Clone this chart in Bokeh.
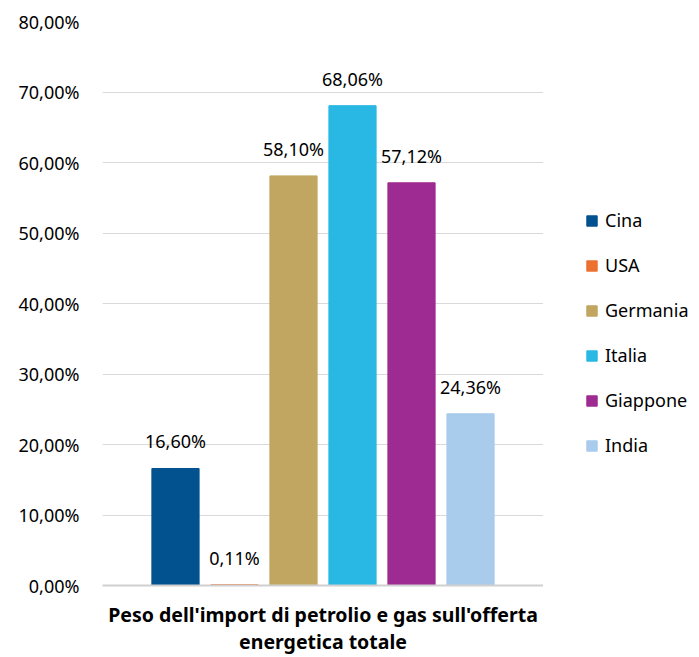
from bokeh.plotting import figure
from bokeh.layouts import row
from bokeh.models import ColumnDataSource, Range1d, LabelSet, Legend, LegendItem, CustomJSTickFormatter, FixedTicker
from bokeh.core.properties import value
from bokeh.embed import file_html
from bokeh.resources import INLINE

countries = ["Cina", "USA", "Germania", "Italia", "Giappone", "India"]
values = [16.60, 0.11, 58.10, 68.06, 57.12, 24.36]
colors = ["#02528f", "#ec7030", "#c1a661", "#28b8e3", "#9e2b91", "#a9cbec"]
y_ticks = [0, 10, 20, 30, 40, 50, 60, 70, 80]
x_title = "Peso dell'import di petrolio e gas sull'offerta\nenergetica totale"

FONT = "Noto Sans"

idx = list(range(len(countries)))
labels = [f"{v:.2f}".replace(".", ",") + "%" for v in values]
src = ColumnDataSource(dict(x=idx, top=values, country=countries, color=colors, label=labels))

p = figure(width=543, height=657, output_backend="svg", toolbar_location=None,
           x_range=Range1d(-1.237, 6.237), y_range=Range1d(0, 80),
           min_border_left=102, min_border_right=0, min_border_top=21, min_border_bottom=0)
p.outline_line_color = None
p.background_fill_color = "white"
p.border_fill_color = "white"

r = p.vbar(x="x", top="top", width=0.8, color="color", source=src)

p.add_layout(LabelSet(x="x", y="top", text="label", source=src, text_align="center",
                      text_baseline="middle", y_offset=27, text_font_size="18px",
                      text_font=value(FONT), text_color="#000000"))

p.yaxis.ticker = FixedTicker(ticks=y_ticks)
p.yaxis.formatter = CustomJSTickFormatter(code="return tick.toFixed(2).replace('.', ',') + '%';")
p.yaxis.axis_line_color = None
p.yaxis.major_tick_line_color = None
p.yaxis.minor_tick_line_color = None
p.yaxis.major_label_text_font_size = "18px"
p.yaxis.major_label_text_font = FONT
p.yaxis.major_label_text_color = "#000000"
p.yaxis.major_label_standoff = 17

p.ygrid.grid_line_color = "#d9d9d9"
p.ygrid.grid_line_width = 1
p.xgrid.grid_line_color = None

p.xaxis.ticker = FixedTicker(ticks=[])
p.xaxis.axis_line_color = "#d0d0d0"
p.xaxis.axis_line_width = 2
p.xaxis.major_tick_line_color = None
p.xaxis.minor_tick_line_color = None
p.xaxis.major_label_text_font_size = "0px"
p.xaxis.axis_label = x_title
p.xaxis.axis_label_text_font = FONT
p.xaxis.axis_label_text_font_size = "19.5px"
p.xaxis.axis_label_text_font_style = "bold"
p.xaxis.axis_label_text_color = "#000000"
p.xaxis.axis_label_text_line_height = 1.0
p.xaxis.axis_label_standoff = 15

# legend panel
p2 = figure(width=156, height=657, output_backend="svg", toolbar_location=None,
            x_range=Range1d(0, 1), y_range=Range1d(0, 80),
            x_axis_location=None, y_axis_location=None,
            min_border_left=0, min_border_right=0, min_border_top=0, min_border_bottom=0)
p2.outline_line_color = None
p2.grid.visible = False
r2 = p2.vbar(x="x", top="top", width=0.8, color="color", source=src)
r2.visible = False

items = [LegendItem(label=c, renderers=[r2], index=i) for i, c in enumerate(countries)]
leg = Legend(items=items, location=(42, 128), click_policy="none")
leg.border_line_color = None
leg.background_fill_alpha = 0
leg.label_text_font = FONT
leg.label_text_font_size = "18px"
leg.label_text_color = "#000000"
leg.glyph_width = 13
leg.glyph_height = 13
leg.label_height = 20
leg.spacing = 21
leg.label_standoff = 7
leg.padding = 0
leg.margin = 0
p2.add_layout(leg)

layout = row(p, p2, spacing=0)
open("out.html", "w").write(file_html(layout, INLINE))
